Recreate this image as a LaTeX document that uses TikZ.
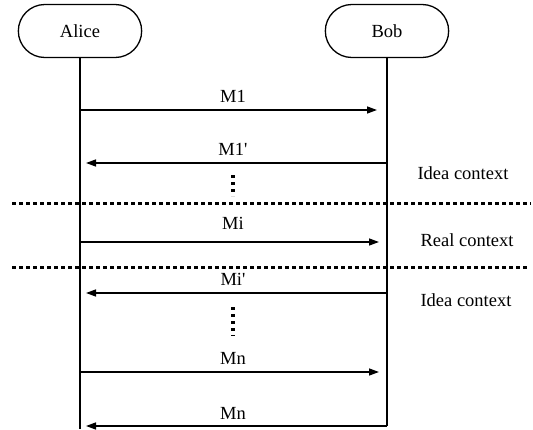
\documentclass[tikz,border=0pt]{standalone}
\usepackage{fontspec}
\setmainfont{Liberation Serif}
\usetikzlibrary{arrows.meta, shapes.misc}

\begin{document}
\begin{tikzpicture}[x=1pt, y=-1pt, >={Triangle[length=10pt,width=7pt]},
  actor/.style={draw, line width=1.3pt, rounded rectangle, minimum width=130pt, minimum height=53pt, font=\fontsize{18.5}{20}\selectfont},
  lifeline/.style={line width=1.8pt},
  msg/.style={->, line width=1.4pt},
  lbl/.style={font=\fontsize{18.5}{20}\selectfont, inner sep=0pt},
  sep/.style={line width=3pt, dash pattern=on 4pt off 3pt},
  vdots/.style={line width=3.2pt, dash pattern=on 3pt off 4pt}]
  \useasboundingbox (0,0) rectangle (533,429);

  % Actors
  \node[actor] (alice) at (80,31) {Alice};
  \node[actor] (bob) at (387,31) {Bob};

  % Lifeline ends
  \coordinate (aliceEnd) at (alice.south |- 0,429);
  \coordinate (bobEnd) at (bob.south |- 0,426);
  \draw[lifeline] (alice.south) -- (aliceEnd);
  \draw[lifeline] (bob.south) -- (bobEnd);

  % Message points on the lifelines
  \coordinate (a1) at (alice.south |- 0,110);
  \coordinate (b1) at (bob.south |- 0,110);
  \coordinate (a2) at (alice.south |- 0,163);
  \coordinate (b2) at (bob.south |- 0,163);
  \coordinate (a3) at (alice.south |- 0,242);
  \coordinate (b3) at (bob.south |- 0,242);
  \coordinate (a4) at (alice.south |- 0,293);
  \coordinate (b4) at (bob.south |- 0,293);
  \coordinate (a5) at (alice.south |- 0,372);
  \coordinate (b5) at (bob.south |- 0,372);
  \coordinate (a6) at (alice.south |- 0,426);

  % Messages
  \draw[msg, shorten >=10pt] (a1) -- (b1);
  \draw[msg, shorten >=6pt] (b2) -- (a2);
  \draw[msg, shorten >=8pt] (a3) -- (b3);
  \draw[msg, shorten >=6pt] (b4) -- (a4);
  \draw[msg, shorten >=8pt] (a5) -- (b5);
  \draw[msg, shorten >=6pt] (bobEnd) -- (a6);

  \node[lbl] (m1) at (233,96) {M1};
  \node[lbl] (m1b) at (233,149) {M1\textquotesingle};
  \node[lbl] (mi) at (233,223) {Mi};
  \node[lbl] (mib) at (233,279) {Mi\textquotesingle};
  \node[lbl] (mn) at (233,358) {Mn};
  \node[lbl] (mnb) at (233,413) {Mn};

  % Omitted messages
  \draw[vdots] (233,175) -- (233,196);
  \draw[vdots] (233,307) -- (233,336);

  % Context borders
  \draw[sep] (12,203) -- (531,203);
  \draw[sep] (12,267) -- (528,267);

  \node[lbl] (idea1) at (463,173) {Idea context};
  \node[lbl] (real) at (467,240) {Real context};
  \node[lbl] (idea2) at (466,300) {Idea context};
\end{tikzpicture}
\end{document}
